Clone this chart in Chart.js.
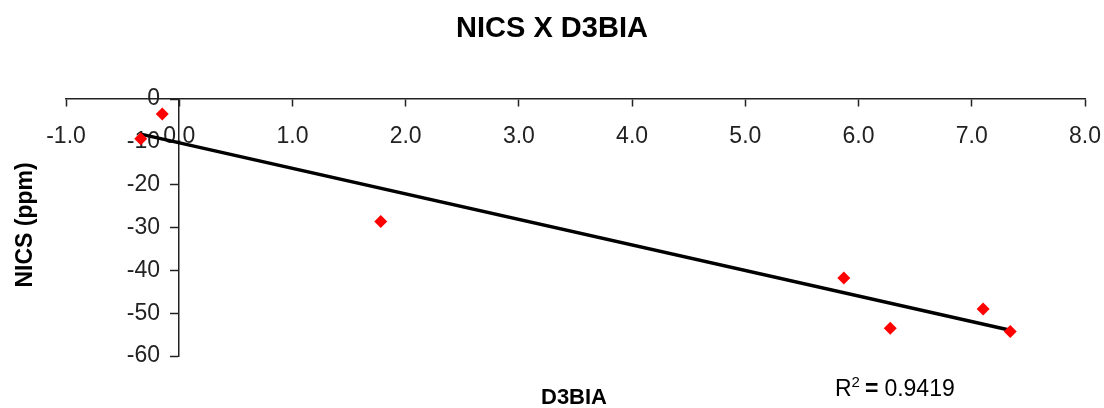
<!DOCTYPE html>
<html>
<head>
<meta charset="utf-8">
<script src="https://cdn.jsdelivr.net/npm/chart.js@4/dist/chart.umd.min.js"></script>
<style>
  body { margin: 0; background: #fff; }
  #wrap { position: relative; width: 1104px; height: 408px; }
</style>
</head>
<body>
<div id="wrap"><canvas id="nicsChart"></canvas></div>
<script>
// D3BIA vs NICS values
const d3bia = [-0.34, -0.15, 1.78, 5.87, 6.28, 7.10, 7.34];
const nics = [-9.3, -3.5, -28.6, -41.8, -53.5, -49.0, -54.3];

// trendline end points (as drawn)
const trendX = [-0.34, 7.34];
const trendY = [-8.2, -54.0];

const rSquared = '0.9419';
const fontFamily = "'Liberation Sans', Arial, sans-serif";

// Title, axis titles and the R squared label
const textPlugin = {
  id: 'extraText',
  afterDraw(chart) {
    const c = chart.ctx;
    c.save();
    c.fillStyle = '#000';
    c.textBaseline = 'alphabetic';

    // chart title
    c.font = 'bold 29px ' + fontFamily;
    c.textAlign = 'center';
    c.fillText('NICS X D3BIA', 552, 37);

    // y axis title
    c.font = 'bold 23px ' + fontFamily;
    c.translate(32, 225);
    c.rotate(-Math.PI / 2);
    c.fillText('NICS (ppm)', 0, 0);
    c.setTransform(1, 0, 0, 1, 0, 0);

    // x axis title
    c.font = 'bold 22px ' + fontFamily;
    c.fillText('D3BIA', 574, 404);

    // R squared
    c.textAlign = 'left';
    let x = 835;
    c.font = '23px ' + fontFamily;
    c.fillText('R', x, 396);
    x += c.measureText('R').width;
    c.font = '15px ' + fontFamily;
    c.fillText('2', x, 387);
    x += c.measureText('2').width + 5;
    c.font = 'bold 23px ' + fontFamily;
    c.fillText('=', x, 396);
    x += c.measureText('=').width + 6;
    c.font = '23px ' + fontFamily;
    c.fillText(rSquared, x, 396);
    c.restore();
  }
};

const ctx = document.getElementById('nicsChart').getContext('2d');
const nicsChart = new Chart(ctx, {
  type: 'scatter',
  data: {
    datasets: [{
      label: 'NICS',
      data: d3bia.map((x, i) => ({ x: x, y: nics[i] })),
      backgroundColor: '#ff0000',
      borderColor: '#ff0000',
      borderWidth: 0,
      pointStyle: 'rectRot',
      pointRadius: 6.5
    }, {
      label: 'Trend',
      type: 'line',
      data: trendX.map((x, i) => ({ x: x, y: trendY[i] })),
      borderColor: '#000',
      borderWidth: 3.5,
      pointRadius: 0,
      fill: false
    }]
  },
  options: {
    responsive: true,
    maintainAspectRatio: false,
    animation: false,
    layout: {
      padding: { left: 66, right: 19, top: 99, bottom: 52 }
    },
    plugins: {
      legend: { display: false },
      tooltip: { enabled: false },
      title: { display: false }
    },
    scales: {
      x: {
        type: 'linear',
        position: { y: 0 },
        min: -1,
        max: 8,
        border: { display: true, color: '#222', width: 1.5 },
        grid: { drawOnChartArea: false, drawTicks: true, tickLength: 7, tickColor: '#222', tickWidth: 1.5 },
        ticks: {
          stepSize: 1,
          padding: 17,
          color: '#222',
          font: { family: fontFamily, size: 23 },
          maxRotation: 0,
          callback: v => v.toFixed(1)
        },
        // the 8.0 label may stick out past the plot, like the original
        afterFit: scale => { scale.paddingRight = 0; }
      },
      y: {
        type: 'linear',
        position: { x: 0 },
        min: -60,
        max: 0,
        border: { display: true, color: '#222', width: 1.5 },
        grid: { drawOnChartArea: false, drawTicks: true, tickLength: 8, tickColor: '#222', tickWidth: 1.5 },
        ticks: {
          stepSize: 10,
          color: '#222',
          font: { family: fontFamily, size: 23 },
          // positioned axis ignores padding, so keep labels clear of the ticks
          callback: v => v + '   '
        }
      }
    }
  },
  plugins: [textPlugin]
});
</script>
</body>
</html>
